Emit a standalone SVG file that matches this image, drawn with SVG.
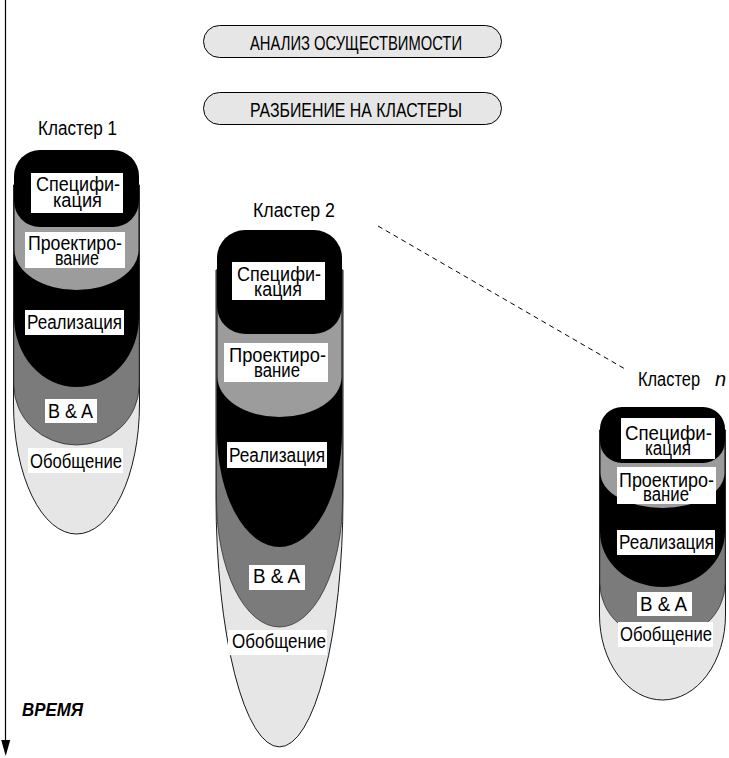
<svg xmlns="http://www.w3.org/2000/svg" width="729" height="758" viewBox="0 0 729 758">
<style>
  text { font-family: "Liberation Sans", Arial, sans-serif; fill: #000; }
  .lbl { font-size: 20px; }
  .cl { font-size: 20px; }
  .ttl { font-size: 21px; }
  .box { fill: #fff; }
  .spec { fill: #000; }
  .proj { fill: #9c9c9c; }
  .impl { fill: #000; }
  .ba { fill: #7b7b7b; stroke: #222; stroke-width: 0.7; }
  .gen { fill: #e6e6e6; stroke: #000; stroke-width: 0.9; }
  .pill { fill: #e6e6e6; stroke: #000; stroke-width: 1; }
</style>

<g id="time-axis">
  <line x1="5.5" y1="0" x2="5.5" y2="741" stroke="#000" stroke-width="1.2"/>
  <path d="M1.2,740 L10.2,740 L5.7,756 Z" fill="#000"/>
  <text x="22" y="716" font-size="18" font-weight="bold" font-style="italic" textLength="61" lengthAdjust="spacingAndGlyphs">ВРЕМЯ</text>
</g>

<g id="feasibility">
  <rect class="pill" x="203.5" y="25.5" width="298" height="32" rx="16"/>
  <text class="ttl" x="250" y="50" textLength="212" lengthAdjust="spacingAndGlyphs">АНАЛИЗ ОСУЩЕСТВИМОСТИ</text>
</g>
<g id="partition">
  <rect class="pill" x="203.5" y="92.5" width="298" height="32" rx="16"/>
  <text class="ttl" x="250" y="117" textLength="212" lengthAdjust="spacingAndGlyphs">РАЗБИЕНИЕ НА КЛАСТЕРЫ</text>
</g>

<g id="connectors">
  <line x1="378" y1="226" x2="625" y2="369" stroke="#000" stroke-width="1" stroke-dasharray="5 4"/>
</g>

<g id="cluster1">
  <text class="cl" x="38" y="135" textLength="79" lengthAdjust="spacingAndGlyphs">Кластер 1</text>
  <g class="shapes">
    <path class="gen" d="M13.5,185 L13.5,404 A63,130 0 0 0 139.5,404 L139.5,185 Z"/>
    <path class="ba" d="M13.8,185 L13.8,385 A62.7,60 0 0 0 139.2,385 L139.2,185 Z"/>
    <path class="impl" d="M14,185 L14,317 A62.5,70 0 0 0 139,317 L139,185 Z"/>
    <path class="proj" d="M14.5,185 L14.5,250 A62,40 0 0 0 138.5,250 L138.5,185 Z"/>
    <rect class="spec" x="14" y="150" width="125" height="77" rx="26"/>
  </g>
  <g class="labels">
    <rect class="box" x="31" y="173" width="92" height="40"/>
    <text class="lbl" x="36" y="191" textLength="84" lengthAdjust="spacingAndGlyphs">Специфи-</text>
    <text class="lbl" x="53" y="207" textLength="49" lengthAdjust="spacingAndGlyphs">кация</text>
    <rect class="box" x="25" y="232" width="100" height="36"/>
    <text class="lbl" x="28" y="250" textLength="94" lengthAdjust="spacingAndGlyphs">Проектиро-</text>
    <text class="lbl" x="55" y="265" textLength="44" lengthAdjust="spacingAndGlyphs">вание</text>
    <rect class="box" x="25" y="310" width="99" height="25"/>
    <text class="lbl" x="27" y="329" textLength="95" lengthAdjust="spacingAndGlyphs">Реализация</text>
    <rect class="box" x="45" y="399" width="52" height="24"/>
    <text class="lbl" x="48" y="418" textLength="45" lengthAdjust="spacingAndGlyphs">B &amp; A</text>
    <rect class="box" x="28" y="448" width="95" height="25"/>
    <text class="lbl" x="30" y="468" textLength="92" lengthAdjust="spacingAndGlyphs">Обобщение</text>
  </g>
</g>

<g id="cluster2">
  <text class="cl" x="253" y="217" textLength="82" lengthAdjust="spacingAndGlyphs">Кластер 2</text>
  <g class="shapes">
    <path class="gen" d="M216,270 L216,497 A63.5,250 0 0 0 343,497 L343,270 Z"/>
    <path class="ba" d="M216.5,270 L216.5,500 A63,127 0 0 0 342.5,500 L342.5,270 Z"/>
    <path class="impl" d="M217,270 L217,432 A62.5,115 0 0 0 342,432 L342,270 Z"/>
    <path class="proj" d="M217.5,270 L217.5,377 A62,40 0 0 0 341.5,377 L341.5,270 Z"/>
    <rect class="spec" x="217" y="230" width="125" height="104" rx="28"/>
  </g>
  <g class="labels">
    <rect class="box" x="232" y="262" width="93" height="38"/>
    <text class="lbl" x="237" y="281" textLength="84" lengthAdjust="spacingAndGlyphs">Специфи-</text>
    <text class="lbl" x="254" y="296" textLength="48" lengthAdjust="spacingAndGlyphs">кация</text>
    <rect class="box" x="224" y="343" width="104" height="39"/>
    <text class="lbl" x="229" y="362" textLength="97" lengthAdjust="spacingAndGlyphs">Проектиро-</text>
    <text class="lbl" x="254" y="377" textLength="46" lengthAdjust="spacingAndGlyphs">вание</text>
    <rect class="box" x="227" y="442" width="100" height="26"/>
    <text class="lbl" x="229" y="462" textLength="96" lengthAdjust="spacingAndGlyphs">Реализация</text>
    <rect class="box" x="249" y="565" width="56" height="25"/>
    <text class="lbl" x="253" y="583" textLength="47" lengthAdjust="spacingAndGlyphs">B &amp; A</text>
    <rect class="box" x="228" y="630" width="99" height="25"/>
    <text class="lbl" x="232" y="648" textLength="94" lengthAdjust="spacingAndGlyphs">Обобщение</text>
  </g>
</g>

<g id="clusterN">
  <text class="cl" y="386"><tspan x="638" textLength="62" lengthAdjust="spacingAndGlyphs">Кластер</tspan> <tspan x="715" font-style="italic">n</tspan></text>
  <g class="shapes">
    <path class="gen" d="M599.5,430 L599.5,615 A63,85 0 0 0 725.5,615 L725.5,430 Z"/>
    <path class="ba" d="M599.8,430 L599.8,583 A62.7,57 0 0 0 725.2,583 L725.2,430 Z"/>
    <path class="impl" d="M600,430 L600,532 A62.5,55 0 0 0 725,532 L725,430 Z"/>
    <path class="proj" d="M600.5,430 L600.5,473 A62,35 0 0 0 724.5,473 L724.5,430 Z"/>
    <rect class="spec" x="600" y="407" width="125" height="56" rx="22"/>
  </g>
  <g class="labels">
    <rect class="box" x="621" y="418" width="94" height="41"/>
    <text class="lbl" x="625" y="440" textLength="87" lengthAdjust="spacingAndGlyphs">Специфи-</text>
    <text class="lbl" x="645" y="455" textLength="46" lengthAdjust="spacingAndGlyphs">кация</text>
    <rect class="box" x="617" y="467" width="99" height="37"/>
    <text class="lbl" x="619" y="487" textLength="95" lengthAdjust="spacingAndGlyphs">Проектиро-</text>
    <text class="lbl" x="643" y="501" textLength="46" lengthAdjust="spacingAndGlyphs">вание</text>
    <rect class="box" x="617" y="530" width="98" height="25"/>
    <text class="lbl" x="619" y="549" textLength="95" lengthAdjust="spacingAndGlyphs">Реализация</text>
    <rect class="box" x="637" y="592" width="55" height="24"/>
    <text class="lbl" x="640" y="611" textLength="47" lengthAdjust="spacingAndGlyphs">B &amp; A</text>
    <rect class="box" x="618" y="622" width="95" height="25"/>
    <text class="lbl" x="620" y="641" textLength="92" lengthAdjust="spacingAndGlyphs">Обобщение</text>
  </g>
</g>
</svg>
